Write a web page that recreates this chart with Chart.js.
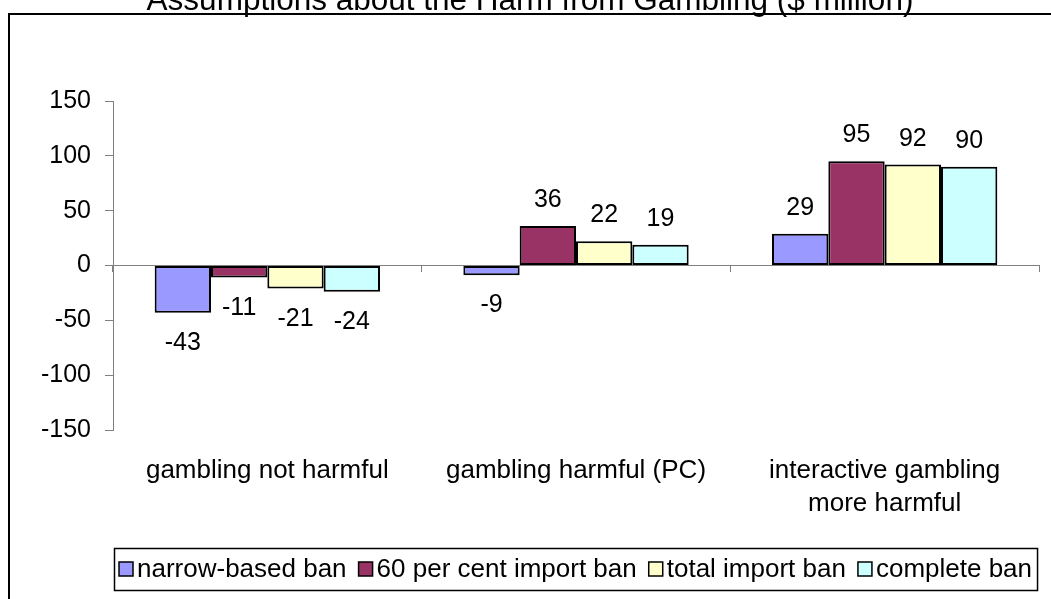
<!DOCTYPE html>
<html>
<head>
<meta charset="utf-8">
<script src="https://cdn.jsdelivr.net/npm/chart.js@4/dist/chart.umd.min.js"></script>
<style>
  html, body { margin: 0; padding: 0; background: #ffffff; overflow: hidden; }
  #wrap { position: relative; width: 1051px; height: 599px; }
</style>
</head>
<body>
<div id="wrap"><canvas id="c" width="1051" height="599"></canvas></div>
<script>
// Chart content
const chartTitle = 'Assumptions about the Harm from Gambling ($ million)';
const categories = [['gambling not harmful'], ['gambling harmful (PC)'], ['interactive gambling', 'more harmful']];
const seriesNames = ['narrow-based ban', '60 per cent import ban', 'total import ban', 'complete ban'];
const narrowBan = [-43, -9, 29];
const sixtyPctImportBan = [-11, 36, 95];
const totalImportBan = [-21, 22, 92];
const completeBan = [-24, 19, 90];
const yTicks = [-150, -100, -50, 0, 50, 100, 150];

const seriesColors = ['#9999FF', '#993366', '#FFFFCC', '#CCFFFF'];
const FONT = '"Liberation Sans", Arial, Helvetica, sans-serif';
const AXIS_GREY = '#808080';

const seriesValues = [narrowBan, sixtyPctImportBan, totalImportBan, completeBan];

// Outer frame and title, drawn behind everything else
const framePlugin = {
  id: 'frame',
  beforeDraw(chart) {
    const ctx = chart.ctx;
    ctx.save();
    ctx.fillStyle = '#ffffff';
    ctx.fillRect(0, 0, chart.width, chart.height);
    ctx.strokeStyle = '#000000';
    ctx.lineWidth = 2;
    ctx.strokeRect(9, 14, chart.width + 100, chart.height + 100);
    ctx.fillStyle = '#000000';
    ctx.font = '31.5px ' + FONT;
    ctx.textAlign = 'center';
    ctx.textBaseline = 'alphabetic';
    ctx.fillText(chartTitle, 530, 10);
    ctx.restore();
  }
};

// Value labels above positive bars and below negative ones
const valueLabelPlugin = {
  id: 'valueLabels',
  afterDatasetsDraw(chart) {
    const ctx = chart.ctx;
    ctx.save();
    ctx.fillStyle = '#000000';
    ctx.font = '25px ' + FONT;
    ctx.textAlign = 'center';
    ctx.textBaseline = 'alphabetic';
    chart.data.datasets.forEach((ds, i) => {
      const meta = chart.getDatasetMeta(i);
      meta.data.forEach((bar, j) => {
        const v = ds.data[j];
        const y = v >= 0 ? bar.y - 19 : bar.y + 37;
        ctx.fillText(String(v), bar.x, y);
      });
    });
    ctx.restore();
  }
};

// Boxed legend along the bottom
const boxedLegendPlugin = {
  id: 'boxedLegend',
  afterDraw(chart) {
    const ctx = chart.ctx;
    const area = chart.chartArea;
    const box = 14, gapText = 4, gapItem = 12, padX = 5;
    ctx.save();
    ctx.font = '26px ' + FONT;
    const items = chart.data.datasets.map(ds => ({
      text: ds.label, color: ds.backgroundColor, w: ctx.measureText(ds.label).width
    }));
    const contentW = items.reduce((a, it) => a + box + gapText + it.w, 0) + gapItem * (items.length - 1);
    const totalW = contentW + padX * 2;
    const cx = (area.left + area.right) / 2;
    const left = Math.round(cx - totalW / 2);
    const cy = chart.height - 30;
    const h = 42;
    ctx.strokeStyle = '#000000';
    ctx.lineWidth = 1.5;
    ctx.strokeRect(left + 0.5, cy - h / 2 + 0.5, totalW, h);
    let x = left + padX;
    ctx.textBaseline = 'middle';
    ctx.textAlign = 'left';
    items.forEach(it => {
      ctx.fillStyle = it.color;
      ctx.fillRect(x, cy - box / 2, box, box);
      ctx.strokeStyle = '#000000';
      ctx.lineWidth = 1.5;
      ctx.strokeRect(x, cy - box / 2, box, box);
      ctx.fillStyle = '#000000';
      ctx.fillText(it.text, x + box + gapText, cy + 1);
      x += box + gapText + it.w + gapItem;
    });
    ctx.restore();
  }
};

const datasets = seriesNames.map((name, i) => ({
  label: name,
  data: seriesValues[i],
  backgroundColor: seriesColors[i],
  borderColor: '#000000',
  borderWidth: 2,
  borderSkipped: false,
  categoryPercentage: 0.73,
  barPercentage: 1.0,
  xAxisID: 'x',
  yAxisID: 'y'
}));

new Chart(document.getElementById('c'), {
  type: 'bar',
  data: { labels: categories, datasets },
  plugins: [framePlugin, valueLabelPlugin, boxedLegendPlugin],
  options: {
    responsive: false,
    animation: false,
    devicePixelRatio: 1,
    layout: { padding: { top: 101, right: 12, bottom: 54, left: 0 } },
    plugins: {
      legend: { display: false },
      title: { display: false },
      tooltip: { enabled: false }
    },
    scales: {
      x: {
        type: 'category',
        position: 'bottom',
        offset: true,
        grid: { display: false, drawTicks: false, tickLength: 0 },
        border: { display: false },
        ticks: {
          color: '#000000',
          font: { family: FONT, size: 26, lineHeight: 1.25 },
          padding: 25,
          maxRotation: 0,
          autoSkip: false
        }
      },
      x0: {
        type: 'category',
        labels: categories,
        position: { y: 0 },
        offset: true,
        grid: {
          offset: true,
          drawOnChartArea: false,
          drawTicks: true,
          tickLength: 6,
          color: AXIS_GREY,
          lineWidth: 1
        },
        border: { display: true, color: AXIS_GREY, width: 1 },
        ticks: { display: false }
      },
      y: {
        type: 'linear',
        position: 'left',
        min: -150,
        max: 150,
        afterBuildTicks(scale) {
          scale.ticks = yTicks.map(v => ({ value: v }));
        },
        afterFit(scale) { scale.width = 113; },
        grid: {
          drawOnChartArea: false,
          drawTicks: true,
          tickLength: 8,
          color: AXIS_GREY,
          lineWidth: 1
        },
        border: { display: true, color: AXIS_GREY, width: 1 },
        ticks: {
          color: '#000000',
          font: { family: FONT, size: 25 },
          padding: 14
        }
      }
    }
  }
});
</script>
</body>
</html>
